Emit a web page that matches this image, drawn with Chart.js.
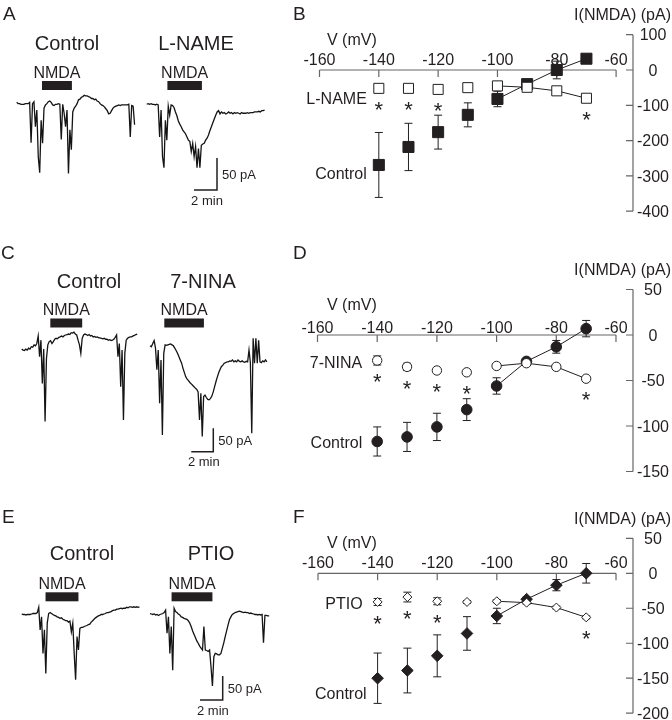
<!DOCTYPE html>
<html>
<head>
<meta charset="utf-8">
<script src="https://cdn.jsdelivr.net/npm/chart.js@4.4.1/dist/chart.umd.min.js"></script>
<style>
  body { margin: 0; background: #fff; }
  #fig { position: relative; width: 672px; height: 720px; overflow: hidden; }
  #fig canvas { position: absolute; }
  .tag { position: absolute; font: 19px "Liberation Sans", Arial, sans-serif; color: #231f20; line-height: 1; }
</style>
</head>
<body>
<div id="fig">
  <canvas id="traceA"></canvas>
  <canvas id="traceC"></canvas>
  <canvas id="traceE"></canvas>
  <canvas id="ivB"></canvas>
  <canvas id="ivD"></canvas>
  <canvas id="ivF"></canvas>
  <div class="tag" style="left:3px;top:4px">A</div>
  <div class="tag" style="left:293px;top:4px">B</div>
  <div class="tag" style="left:1px;top:243px">C</div>
  <div class="tag" style="left:293px;top:243px">D</div>
  <div class="tag" style="left:2px;top:507px">E</div>
  <div class="tag" style="left:293px;top:507px">F</div>
</div>
<script>
const FONT = '"Liberation Sans", Arial, sans-serif';
const INK = '#231f20';
const AXIS = '#666';
const dt = 0.125; // min between samples

// whole-cell currents (pA), one value every dt
const ctlA = [1,-1,-1,-2,-2,-2,-1,-1,-1,1,-62,-1,2,-37,-11,-84,-109,-27,-63,-8,-3,-1,2,3,1,-3,-4,-2,-2,-1,-2,-57,-2,-16,-37,-11,-110,-42,-73,-14,-8,-5,-1,5,6,9,10,12,11,11,10,9,7,7,5,6,3,2,-1,-3,-4,-6,-9,-12,-17,-16,-12,-8,-6,-5,-4,-3,-4,-3,-3,-3,-3,-3,-2,-53,-4,-5,-34];
const lnameA = [-2,-1,-2,-1,-2,-2,-3,-2,-3,-53,-11,-84,-101,-27,-58,-5,-19,-3,-4,-7,-14,-20,-28,-33,-37,-42,-45,-48,-53,-58,-60,-76,-63,-84,-68,-101,-71,-101,-66,-64,-63,-58,-55,-50,-43,-37,-31,-25,-19,-14,-12,-17,-14,-16,-15,-17,-16,-14,-16,-15,-17,-15,-16,-15,-16,-17,-15,-16,-16,-16,-15,-16,-15,-15,-15,-14,-14,-14,-13,-14,-12,-12,-11];
const ctlC = [-30,-32,-33,-30,-32,-28,-30,-25,-26,-21,-23,-18,-2,-46,-11,-103,-30,-184,-50,-21,-14,-12,-18,-14,-9,-7,-8,-5,-4,-2,-4,-1,0,1,2,1,5,4,6,2,0,-11,-21,-39,-7,0,2,1,-1,1,-2,-1,-4,-3,-5,-4,-6,-6,-7,-8,-7,-9,-9,-11,-10,-12,-11,-9,-5,0,-46,-18,-110,-32,-181,-39,-11,-7,-5,-4,-4,-2,-1,1,2];
const ninaC = [-23,-25,-18,-12,-28,-74,-32,-145,-53,-213,-39,-21,-22,-21,-20,-19,-21,-23,-28,-33,-39,-46,-53,-60,-71,-80,-89,-94,-97,-101,-104,-107,-110,-113,-116,-121,-181,-124,-216,-131,-128,-133,-137,-138,-135,-130,-121,-110,-99,-89,-80,-73,-67,-64,-60,-59,-57,-57,-55,-56,-53,-57,-55,-57,-53,-56,-57,-55,-57,-58,-56,-57,-32,-59,-209,-7,-60,-7,-60,-11,-57,-59,-55,-57,-53,-57];
const ctlE = [0,-1,-1,-2,-1,-1,-1,0,1,1,1,3,14,-33,-6,-82,-33,-124,-19,1,3,1,-1,-3,-4,-6,-7,-9,-8,-11,-12,-14,-14,-17,-15,-37,-19,-82,-137,-47,-75,-30,-28,-28,-26,-25,-24,-22,-21,-17,-14,-11,-8,-6,-4,-3,-1,-1,0,1,3,3,4,5,7,8,8,10,10,11,12,11,12,12,14,13,15,15,14,15,14,15,14,15];
const ptioE = [1,0,-1,0,-2,-1,-3,-1,0,1,3,8,-40,-6,-82,-26,-117,12,5,3,0,-2,-6,-7,-9,-10,-11,-14,-19,-26,-35,-42,-49,-56,-61,-67,-71,-75,-26,-75,-76,-78,-75,-110,-150,-89,-82,-83,-85,-85,-82,-71,-60,-47,-35,-23,-12,-6,-1,1,3,4,5,6,5,4,3,4,3,3,1,2,1,0,-1,-1,-2,-1,-2,-1,-60,-3,-3,-4,-4];

// NMDA application (min from start of each trace)
const nmdaA = [[2.2, 4.8], [1.8, 4.8]];
const nmdaC = [[2.6, 5.5], [1.3, 4.9]];
const nmdaE = [[2.1, 5.0], [1.9, 5.5]];

// I-V relations
const voltages = [-140, -130, -120, -110, -100, -90, -80, -70];
const ctlB = [-269, -218, -176, -127, -82, -40, 0, 32];
const ctlBErr = [92, 67, 48, 34, 22, 8, 25, 6];
const lnameB = [-52, -52, -55, -50, -45, -49, -59, -80];
const lnameBErr = [4, 4, 4, 4, 5, 4, 4, 4];
const ctlD = [-117, -112, -101, -82, -56, -29, -13, 7];
const ctlDErr = [16, 16, 15, 12, 9, 3, 7, 9];
const ninaD = [-28, -35, -39, -41, -34, -31, -35, -48];
const ninaDErr = [5, 4, 2, 2, 2, 2, 2, 2];
const ctlF = [-150, -139, -118, -86, -61, -37, -17, 0];
const ctlFErr = [36, 32, 30, 24, 11, 3, 8, 14];
const ptioF = [-41, -34, -40, -41, -40, -42, -49, -63];
const ptioFErr = [5, 7, 5, 2, 2, 2, 2, 2];
const starsB = [-140, -130, -120, -70];
const starsD = [-140, -130, -120, -110, -70];
const starsF = [-140, -130, -120, -70];

const xTicks = [-160, -140, -120, -100, -80, -60];
const yTicksB = [100, 0, -100, -200, -300, -400];
const yTicksD = [50, 0, -50, -100, -150];
const yTicksF = [50, 0, -50, -100, -150, -200];

function text(ctx, s, x, y, size, align) {
  ctx.font = size + 'px ' + FONT;
  ctx.textAlign = align || 'center';
  ctx.textBaseline = 'alphabetic';
  ctx.fillStyle = INK;
  ctx.fillText(s, x, y + 0.36 * size);
}

function place(id, left, top, w, h) {
  const cv = document.getElementById(id);
  cv.width = w;
  cv.height = h;
  cv.style.left = left + 'px';
  cv.style.top = top + 'px';
  return cv;
}

function baseOptions(padding, x, y) {
  return {
    responsive: false,
    animation: false,
    devicePixelRatio: 1,
    events: [],
    layout: { padding: padding },
    plugins: { legend: { display: false }, tooltip: { enabled: false } },
    scales: {
      x: Object.assign({ type: 'linear', display: false }, x),
      y: Object.assign({ type: 'linear', display: false }, y)
    }
  };
}

function traceChart(id, p) {
  const W = 300;
  const cv = place(id, 0, p.top, W, p.height);
  const t0 = p.starts.map(s => s / p.pxPerMin);
  const datasets = p.traces.map((vals, k) => ({
    data: vals.map((v, i) => ({ x: t0[k] + i * dt, y: v })),
    showLine: true,
    pointRadius: 0,
    borderColor: '#141414',
    borderWidth: 1.3,
    clip: false
  }));

  const deco = {
    id: 'deco',
    afterDatasetsDraw(chart) {
      const ctx = chart.ctx, xs = chart.scales.x, ys = chart.scales.y;
      ctx.save();
      p.nmda.forEach(([a, b], k) => {
        const x1 = xs.getPixelForValue(t0[k] + a);
        const x2 = xs.getPixelForValue(t0[k] + b);
        ctx.fillStyle = INK;
        ctx.fillRect(x1, p.barY - 4.5, x2 - x1, 9);
        text(ctx, 'NMDA', (x1 + x2) / 2, p.barY - 13.5, 16);
        text(ctx, p.names[k], p.nameX[k], p.nameY, 20);
      });
      // 2 min / 50 pA scale bar
      const [cx, cy] = p.corner;
      const w = xs.getPixelForValue(2) - xs.getPixelForValue(0);
      const h = ys.getPixelForValue(0) - ys.getPixelForValue(50);
      ctx.strokeStyle = INK;
      ctx.lineWidth = 1.5;
      ctx.beginPath();
      ctx.moveTo(cx - w, cy);
      ctx.lineTo(cx, cy);
      ctx.lineTo(cx, cy - h);
      ctx.stroke();
      text(ctx, '50 pA', cx + 5, cy - h / 2, 13, 'left');
      text(ctx, '2 min', cx - w / 2 + 1.5, cy + 10, 13);
      ctx.restore();
    }
  };

  new Chart(cv, {
    type: 'scatter',
    data: { datasets: datasets },
    options: baseOptions(0,
      { min: 0, max: W / p.pxPerMin },
      { min: (p.zeroPx - p.height) / p.pxPerPA, max: p.zeroPx / p.pxPerPA }),
    plugins: [deco]
  });
}

function ivChart(id, p) {
  const W = 372;
  const cv = place(id, 300, p.top, W, p.height);
  const pts = vals => vals.map((v, i) => ({ x: voltages[i], y: v }));
  const seg = { borderColor: c => (c.p0.parsed.x < -100 ? 'rgba(0,0,0,0)' : INK) };
  const series = (vals, fill, r) => ({
    data: pts(vals),
    showLine: true,
    borderColor: INK,
    borderWidth: 1,
    segment: seg,
    pointStyle: p.shape,
    pointRadius: r,
    pointBackgroundColor: fill,
    pointBorderColor: INK,
    pointBorderWidth: 1,
    clip: false
  });
  const datasets = [series(p.drug, '#fff', p.rOpen), series(p.ctl, INK, p.rFill)];

  const axes = {
    id: 'axes',
    beforeDatasetsDraw(chart) {
      const ctx = chart.ctx, xs = chart.scales.x, ys = chart.scales.y;
      const y0 = ys.getPixelForValue(0);
      const xr = chart.chartArea.right;
      ctx.save();
      ctx.strokeStyle = AXIS;
      ctx.lineWidth = 1.2;
      ctx.beginPath();
      ctx.moveTo(xs.getPixelForValue(-160), y0);
      ctx.lineTo(xs.getPixelForValue(-60), y0);
      xTicks.forEach(v => {
        const x = xs.getPixelForValue(v);
        ctx.moveTo(x, y0);
        ctx.lineTo(x, y0 + 7);
      });
      ctx.moveTo(xr, ys.getPixelForValue(p.yTicks[0]));
      ctx.lineTo(xr, ys.getPixelForValue(p.yTicks[p.yTicks.length - 1]));
      p.yTicks.forEach(v => {
        const y = ys.getPixelForValue(v);
        ctx.moveTo(xr, y);
        ctx.lineTo(xr - 7, y);
      });
      ctx.stroke();
      xTicks.forEach(v => text(ctx, String(v), xs.getPixelForValue(v), y0 - p.tickGap, 16));
      p.yTicks.forEach(v => text(ctx, String(v), xr + 20, ys.getPixelForValue(v), 16));
      text(ctx, 'I(NMDA) (pA)', W - 1, chart.chartArea.top - 20, 16, 'right');
      text(ctx, 'V (mV)', 27, y0 - 31, 16, 'left');

      // mean ± SEM bars, under the markers
      ctx.strokeStyle = INK;
      ctx.lineWidth = 1;
      [[p.drug, p.drugErr], [p.ctl, p.ctlErr]].forEach(([m, e]) => {
        m.forEach((v, i) => {
          const x = xs.getPixelForValue(voltages[i]);
          const top = ys.getPixelForValue(v + e[i]);
          const bot = ys.getPixelForValue(v - e[i]);
          ctx.beginPath();
          ctx.moveTo(x, top); ctx.lineTo(x, bot);
          ctx.moveTo(x - 4, top); ctx.lineTo(x + 4, top);
          ctx.moveTo(x - 4, bot); ctx.lineTo(x + 4, bot);
          ctx.stroke();
        });
      });
      ctx.restore();
    },
    afterDatasetsDraw(chart) {
      const ctx = chart.ctx, xs = chart.scales.x, ys = chart.scales.y;
      ctx.save();
      ctx.font = '22px ' + FONT;
      ctx.textAlign = 'center';
      ctx.textBaseline = 'alphabetic';
      ctx.fillStyle = INK;
      p.stars.forEach(v => {
        const i = voltages.indexOf(v);
        const y = ys.getPixelForValue(p.drug[i]) + 16;
        ctx.fillText('*', xs.getPixelForValue(v), y + 0.58 * 22);
      });
      p.labels.forEach(l => {
        const vals = l.ofCtl ? p.ctl : p.drug;
        text(ctx, l.text, xs.getPixelForValue(-140) + l.dx, ys.getPixelForValue(vals[0]) + l.dy, 16, 'right');
      });
      ctx.restore();
    }
  };

  new Chart(cv, {
    type: 'scatter',
    data: { datasets: datasets },
    options: baseOptions({ left: p.padL, right: 39, top: p.padT, bottom: p.padB },
      { min: -160, max: -54.3 },
      { min: p.yTicks[p.yTicks.length - 1], max: p.yTicks[0] }),
    plugins: [axes]
  });
}

traceChart('traceA', {
  top: 0, height: 240, zeroPx: 103, pxPerPA: 0.64, pxPerMin: 11.5,
  traces: [ctlA, lnameA], starts: [16.7, 146.7], nmda: nmdaA, barY: 85.5,
  names: ['Control', 'L-NAME'], nameX: [67, 196], nameY: 43, corner: [217, 190]
});
traceChart('traceC', {
  top: 240, height: 230, zeroPx: 95, pxPerPA: 0.47, pxPerMin: 11,
  traces: [ctlC, ninaC], starts: [21.7, 150], nmda: nmdaC, barY: 83,
  names: ['Control', '7-NINA'], nameX: [89, 203], nameY: 40.7, corner: [213.3, 211.7]
});
traceChart('traceE', {
  top: 470, height: 250, zeroPx: 144, pxPerPA: 0.48, pxPerMin: 11.35,
  traces: [ctlE, ptioE], starts: [21.7, 150], nmda: nmdaE, barY: 126.8,
  names: ['Control', 'PTIO'], nameX: [82, 211], nameY: 82.7, corner: [222.7, 230]
});

ivChart('ivB', {
  top: 0, height: 240, padL: 19.5, padT: 34.7, padB: 28.8, yTicks: yTicksB, tickGap: 10.5,
  ctl: ctlB, ctlErr: ctlBErr, drug: lnameB, drugErr: lnameBErr, stars: starsB,
  shape: 'rect', rFill: 7.8, rOpen: 7.1,
  labels: [{ text: 'L-NAME', dx: -12, dy: 10 }, { text: 'Control', ofCtl: true, dx: -12, dy: 8 }]
});
ivChart('ivD', {
  top: 240, height: 245, padL: 17.5, padT: 49.5, padB: 13.5, yTicks: yTicksD, tickGap: 8,
  ctl: ctlD, ctlErr: ctlDErr, drug: ninaD, drugErr: ninaDErr, stars: starsD,
  shape: 'circle', rFill: 5.3, rOpen: 4.7,
  labels: [{ text: '7-NINA', dx: -15, dy: 2 }, { text: 'Control', ofCtl: true, dx: -15, dy: 1 }]
});
ivChart('ivF', {
  top: 470, height: 250, padL: 18, padT: 68.3, padB: 6.7, yTicks: yTicksF, tickGap: 11.5,
  ctl: ctlF, ctlErr: ctlFErr, drug: ptioF, drugErr: ptioFErr, stars: starsF,
  shape: 'rectRot', rFill: 5.8, rOpen: 4.5,
  labels: [{ text: 'PTIO', dx: -15, dy: 1 }, { text: 'Control', ofCtl: true, dx: -11, dy: 15 }]
});
</script>
</body>
</html>
